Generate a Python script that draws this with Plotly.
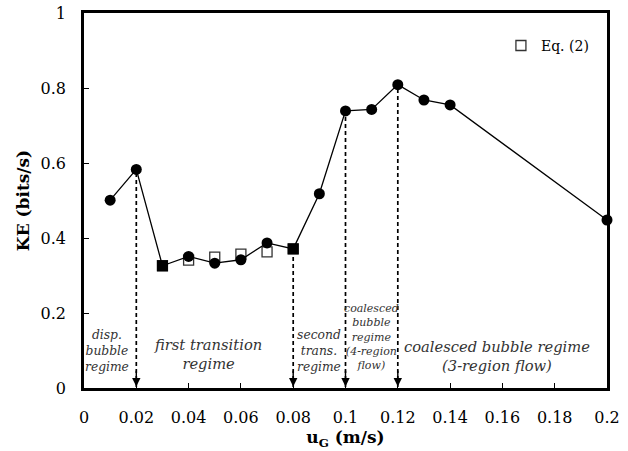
import plotly.graph_objects as go

# Measured data (KE vs superficial gas velocity)
ug = [0.01, 0.02, 0.03, 0.04, 0.05, 0.06, 0.07, 0.08, 0.09, 0.10, 0.11, 0.12, 0.13, 0.14, 0.20]
ke = [0.501, 0.583, 0.326, 0.351, 0.333, 0.342, 0.387, 0.371, 0.518, 0.739, 0.743, 0.809, 0.768, 0.755, 0.448]
symbols = ["circle", "circle", "square", "circle", "circle", "circle", "circle", "square",
           "circle", "circle", "circle", "circle", "circle", "circle", "circle"]

# Eq. (2) values
ug_eq = [0.03, 0.04, 0.05, 0.06, 0.07, 0.08]
ke_eq = [0.326, 0.341, 0.349, 0.357, 0.363, 0.371]

# Regime transitions (arrows)
trans_x = [0.02, 0.08, 0.10, 0.12]
trans_y = [0.583, 0.371, 0.739, 0.809]

# Regime labels
label_x = [0.0088, 0.0475, 0.0897, 0.110, 0.158]
label_y = [0.099, 0.090, 0.099, 0.136, 0.085]
label_text = ["disp.<br>bubble<br>regime",
              "first transition<br>regime",
              "second<br>trans.<br>regime",
              "coalesced<br>bubble<br>regime<br>(4-region<br>flow)",
              "coalesced bubble regime<br>(3-region flow)"]
label_size = [12.3, 14.7, 12.3, 11, 14.7]

xticks = [0, 0.02, 0.04, 0.06, 0.08, 0.1, 0.12, 0.14, 0.16, 0.18, 0.2]
xticklabels = ["0", "0.02", "0.04", "0.06", "0.08", "0.1", "0.12", "0.14", "0.16", "0.18", "0.2"]
yticks = [0, 0.2, 0.4, 0.6, 0.8, 1.0]
yticklabels = ["0", "0.2", "0.4", "0.6", "0.8", "1"]

serif = "DejaVu Serif"

fig = go.Figure()

# dashed transition lines
for tx, ty in zip(trans_x, trans_y):
    fig.add_trace(go.Scatter(x=[tx, tx], y=[0.003, ty], mode="lines",
                             line=dict(color="black", width=1.7, dash="4px,3px"),
                             showlegend=False, hoverinfo="skip"))
    fig.add_annotation(x=tx, y=0.004, ax=tx, ay=0.05, xref="x", yref="y",
                       axref="x", ayref="y", text="", showarrow=True,
                       arrowhead=2, arrowsize=1.2, arrowwidth=1.4, arrowcolor="black")

fig.add_trace(go.Scatter(x=ug_eq, y=ke_eq, mode="markers", name="Eq. (2)",
                         marker=dict(symbol="square-open", size=10,
                                     color="#333333", line=dict(width=1.3)),
                         showlegend=True))

fig.add_trace(go.Scatter(x=ug, y=ke, mode="lines+markers", name="KE",
                         line=dict(color="black", width=1.3),
                         marker=dict(symbol=symbols, size=11, color="black"),
                         showlegend=False, cliponaxis=False))

for lx, ly, lt, ls in zip(label_x, label_y, label_text, label_size):
    fig.add_annotation(x=lx, y=ly, xref="x", yref="y", text="<i>" + lt + "</i>",
                       showarrow=False,
                       font=dict(family=serif, size=ls, color="#333333"),
                       xanchor="center", yanchor="middle", align="center")

fig.update_layout(
    width=628, height=451,
    margin=dict(l=84, r=21, t=13, b=63, autoexpand=False),
    plot_bgcolor="white", paper_bgcolor="white",
    font=dict(family=serif, size=16, color="black"),
    legend=dict(x=0.975, y=0.955, xanchor="right", yanchor="top",
                bgcolor="rgba(0,0,0,0)", font=dict(family=serif, size=14, color="black")),
)
fig.update_xaxes(range=[0, 0.2], tickvals=xticks, ticktext=xticklabels,
                 ticks="inside", ticklen=5, tickcolor="black", automargin=False,
                 showline=True, linecolor="black", linewidth=2.5, mirror=True,
                 showgrid=False, zeroline=False, ticklabelstandoff=13,
                 title=dict(text="<b>u<sub>G</sub> (m/s)</b>", font=dict(size=17), standoff=2))
fig.update_yaxes(range=[0, 1], tickvals=yticks, ticktext=yticklabels,
                 ticks="inside", ticklen=5, tickcolor="black", automargin=False,
                 showline=True, linecolor="black", linewidth=2.5, mirror=True,
                 showgrid=False, zeroline=False, ticklabelstandoff=12,
                 title=dict(text="<b>KE (bits/s)</b>", font=dict(size=17), standoff=7))

fig.write_html("out.html")
